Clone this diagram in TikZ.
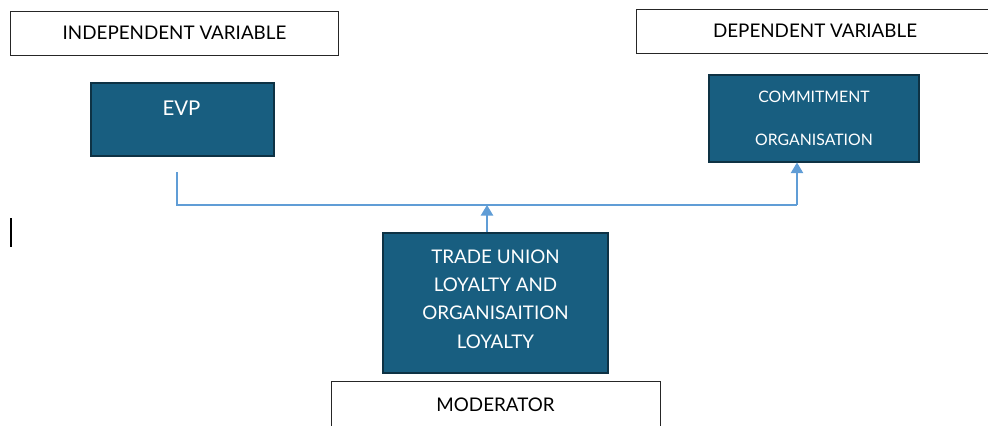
\documentclass[tikz,border=0pt]{standalone}
\usepackage{fontspec}
\setmainfont{Lato}
\usetikzlibrary{arrows.meta}
\definecolor{boxblue}{RGB}{24,94,128}
\definecolor{boxedge}{RGB}{14,50,68}
\definecolor{linkblue}{RGB}{96,157,214}
\tikzset{
  label box/.style={draw=black!85,fill=white,minimum height=0.88cm,inner sep=0pt},
  label text/.style={font=\fontsize{10.7}{13}\selectfont},
  var box/.style={draw=boxedge,fill=boxblue,text=white,inner sep=0pt,line width=0.6pt},
  link/.style={linkblue,line width=0.7pt},
}
\begin{document}
\begin{tikzpicture}[x=0.02cm,y=-0.02cm]
\useasboundingbox (0,0) rectangle (988,426);

\node[label box,minimum width=6.56cm] (indep) at (174,33) {};
\node[label text] at (174.5,33) {INDEPENDENT VARIABLE};
\node[label box,minimum width=7.1cm] (dep) at (814,31) {};
\node[label text] at (815,31) {DEPENDENT VARIABLE};
\node[label box,minimum width=6.58cm,minimum height=1.0cm] (mod) at (495.5,406) {};
\node[label text] at (495.5,405) {MODERATOR};

\node[var box,minimum width=3.66cm,minimum height=1.46cm] (evp) at (182.5,119.5) {};
\node[text=white,font=\fontsize{11.6}{14}\selectfont] at (181.5,108) {EVP};

\node[var box,minimum width=4.2cm,minimum height=1.74cm] (commit) at (814,118.5) {};
\node[text=white,font=\small] at (814,97) {COMMITMENT};
\node[text=white,font=\small] at (814,140) {ORGANISATION};

\node[var box,minimum width=4.5cm,minimum height=2.8cm] (trade) at (495.5,303) {};
\node[text=white,align=center,font=\fontsize{10.7}{16.2}\selectfont,inner sep=0pt] at (495.5,299)
  {TRADE UNION\\LOYALTY AND\\ORGANISAITION\\LOYALTY};

\coordinate (evpfoot) at (177,172);
\coordinate (join) at (487,205);
\coordinate (turn) at (797,205);
\draw[link] (evpfoot) -- (evpfoot |- join) -- (turn);
\draw[link,-{Triangle[length=6pt,width=7pt]}] (turn) -- (commit.south -| turn);
\draw[link,-{Triangle[length=6pt,width=7pt]}] (trade.north -| join) -- (join);

\draw[line width=0.8pt] (11,218) -- (11,247);
\end{tikzpicture}
\end{document}
